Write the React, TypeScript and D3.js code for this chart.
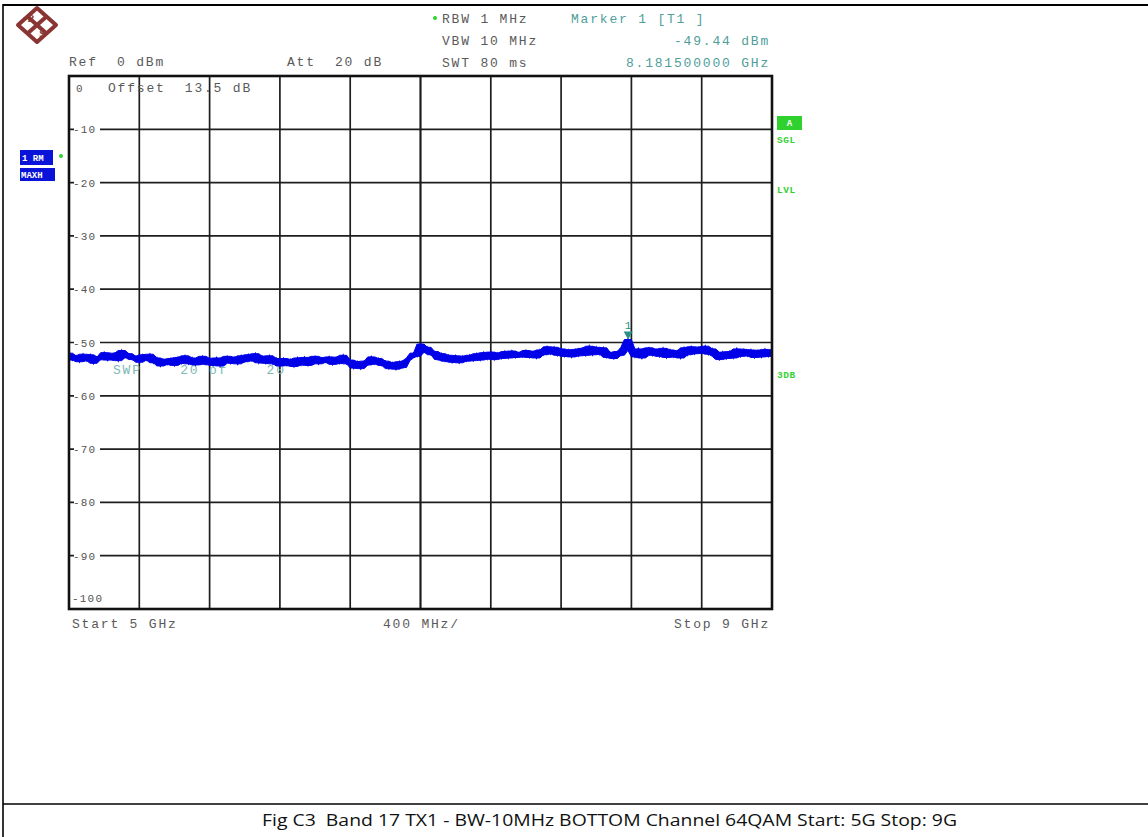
import React from "react";
import * as d3 from "d3";

// Sweep settings
const START_GHZ = 5;
const STOP_GHZ = 9;
const REF_DBM = 0;
const RANGE_DB = 100;
const X_DIVS = 10;

const Y_TICK_LABELS = ["-10", "-20", "-30", "-40", "-50", "-60", "-70", "-80", "-90"];
const Y_TICK_VALUES = [-10, -20, -30, -40, -50, -60, -70, -80, -90];

// Max-hold trace, 201 points evenly spaced from start to stop (dBm)
const TRACE_DBM = [
  -52.0, -53.3, -52.5, -53.6, -52.2,
  -53.4, -52.3, -53.9, -52.7, -53.2,
  -51.9, -53.3, -52.4, -52.0, -53.4,
  -51.5, -52.8, -52.1, -53.2, -52.6,
  -53.7, -52.3, -53.3, -52.2, -53.8,
  -52.9, -54.4, -53.2, -54.1, -53.0,
  -54.3, -52.8, -53.9, -52.5, -54.0,
  -52.9, -54.2, -53.1, -52.6, -54.1,
  -53.0, -54.3, -52.9, -54.4, -53.3,
  -52.6, -53.9, -52.8, -54.0, -52.5,
  -53.6, -52.3, -53.4, -52.1, -53.8,
  -52.6, -53.9, -52.5, -54.0, -53.0,
  -54.4, -53.0, -54.3, -53.2, -54.5,
  -52.9, -54.2, -52.8, -54.3, -53.4,
  -52.6, -54.0, -52.9, -53.7, -52.7,
  -54.1, -52.8, -53.9, -52.4, -54.0,
  -53.3, -54.8, -53.6, -54.9, -53.5,
  -54.2, -52.7, -54.0, -53.0, -54.3,
  -53.5, -54.9, -53.8, -55.0, -53.6,
  -54.7, -53.4, -52.9, -52.0, -52.6,
  -50.3, -51.8, -50.9, -52.3, -51.7,
  -53.2, -52.1, -53.5, -52.4, -53.7,
  -52.5, -53.8, -52.6, -53.5, -52.4,
  -53.4, -52.1, -53.3, -51.9, -53.1,
  -51.8, -53.2, -52.0, -53.0, -51.7,
  -52.9, -51.6, -52.8, -51.9, -52.7,
  -51.5, -52.8, -51.7, -52.9, -51.4,
  -52.3, -50.8, -52.1, -50.9, -52.4,
  -51.2, -52.6, -51.4, -52.7, -51.3,
  -52.5, -51.1, -52.4, -50.7, -52.3,
  -50.9, -52.2, -51.0, -52.8, -51.9,
  -53.0, -51.7, -52.4, -50.9, -49.44,
  -51.5, -52.7, -51.2, -52.9, -51.6,
  -51.0, -52.4, -51.3, -52.6, -51.1,
  -52.8, -51.4, -52.7, -51.6, -52.9,
  -51.0, -52.3, -50.8, -52.1, -50.9,
  -52.0, -50.7, -52.2, -51.2, -52.6,
  -53.2, -51.8, -53.0, -51.7, -52.9,
  -51.2, -52.6, -51.3, -52.5, -51.4,
  -52.8, -51.5, -52.7, -51.3, -52.6,
  -51.4,
];

const MARKER_GHZ = 8.1815;
const MARKER_DBM = -49.44;

const HEADER_LEFT = [
  { text: "Ref  0 dBm", x: 69, y: 66 },
  { text: "Att  20 dB", x: 287, y: 66 },
];
const HEADER_MID = ["RBW 1 MHz", "VBW 10 MHz", "SWT 80 ms"];
const MARKER_LINES = ["Marker 1 [T1 ]", "-49.44 dBm", "8.181500000 GHz"];

const CAPTION = "Fig C3  Band 17 TX1 - BW-10MHz BOTTOM Channel 64QAM Start: 5G Stop: 9G";

const MONO = "'Liberation Mono', 'DejaVu Sans Mono', monospace";
const GREY = "#5a5a5a";
const TEAL = "#4f9e98";
const GREEN = "#2fd12f";
const BLUE = "#0a14d8";
const TRACE = "#0000e8";
const LOGO = "#8a3434";

export default function App() {
  const left = 69, right = 772, top = 76, bottom = 609;

  const x = d3.scaleLinear().domain([START_GHZ, STOP_GHZ]).range([left, right]);
  const y = d3.scaleLinear().domain([REF_DBM - RANGE_DB, REF_DBM]).range([bottom, top]);

  const xDivs = d3.range(1, X_DIVS).map((i) => START_GHZ + ((STOP_GHZ - START_GHZ) * i) / X_DIVS);
  const freqAt = (i: number) =>
    START_GHZ + ((STOP_GHZ - START_GHZ) * i) / (TRACE_DBM.length - 1);

  const line = d3
    .line<number>()
    .x((_, i) => x(freqAt(i)))
    .y((d) => y(d));

  // the dense sweep renders as a filled band spanning neighbouring readings
  const band = TRACE_DBM.map((_, i) => {
    const win = TRACE_DBM.slice(Math.max(0, i - 1), i + 2);
    return { f: freqAt(i), lo: d3.min(win) as number, hi: d3.max(win) as number };
  });
  const area = d3
    .area<{ f: number; lo: number; hi: number }>()
    .x((d) => x(d.f))
    .y0((d) => y(d.lo))
    .y1((d) => y(d.hi));

  const mx = x(MARKER_GHZ);
  const my = y(MARKER_DBM);

  const monoText = {
    fontFamily: MONO,
    fontSize: 13,
    letterSpacing: 1.8,
  } as React.CSSProperties;

  return (
    <svg
      width={1148}
      height={837}
      style={{ position: "absolute", left: 0, top: 0, background: "#fff" }}
    >
      {/* page frame */}
      <line x1={3} y1={5} x2={1148} y2={5} stroke="#000" strokeWidth={2.2} />
      <line x1={3} y1={4} x2={3} y2={837} stroke="#000" strokeWidth={1.6} />
      <line x1={3} y1={804} x2={1148} y2={804} stroke="#000" strokeWidth={1.4} />

      {/* R&S logo */}
      <g transform="translate(37,25)">
        <polygon points="0,-17 19,0 0,17 -19,0" fill="#fff" stroke={LOGO} strokeWidth={4} strokeLinejoin="round" />
        <line x1={-9.5} y1={-8.5} x2={9.5} y2={8.5} stroke={LOGO} strokeWidth={4} />
        <line x1={9.5} y1={-8.5} x2={-9.5} y2={8.5} stroke={LOGO} strokeWidth={4} />
        <text x={-6} y={-3} fontSize={10} fontWeight="bold" fontFamily="'Liberation Serif', serif" fill={LOGO} textAnchor="middle">R</text>
        <text x={5} y={12} fontSize={10} fontWeight="bold" fontFamily="'Liberation Serif', serif" fill={LOGO} textAnchor="middle">S</text>
      </g>

      {/* header */}
      {HEADER_LEFT.map((h) => (
        <text key={h.text} x={h.x} y={h.y} fill={GREY} style={{ ...monoText, whiteSpace: "pre" }}>
          {h.text}
        </text>
      ))}
      <circle cx={435} cy={18} r={2} fill={GREEN} />
      {HEADER_MID.map((t, i) => (
        <text key={t} x={442} y={23 + i * 22} fill={GREY} style={monoText}>
          {t}
        </text>
      ))}
      {MARKER_LINES.map((t, i) => (
        <text
          key={t}
          x={i === 0 ? 571 : 770}
          y={23 + i * 22}
          fill={TEAL}
          textAnchor={i === 0 ? "start" : "end"}
          style={monoText}
        >
          {t}
        </text>
      ))}

      {/* trace mode labels */}
      <rect x={20} y={150} width={33} height={15} fill={BLUE} />
      <text x={22} y={161} fill="#fff" fontFamily={MONO} fontSize={9} fontWeight="bold" style={{ whiteSpace: "pre" }}>
        1 RM
      </text>
      <circle cx={61} cy={156} r={2} fill={GREEN} />
      <rect x={20} y={168} width={35} height={13} fill={BLUE} />
      <text x={21} y={178} fill="#fff" fontFamily={MONO} fontSize={9} fontWeight="bold">
        MAXH
      </text>

      {/* status labels right */}
      <rect x={777} y={116} width={25} height={14} fill={GREEN} />
      <text x={789.5} y={126} fill="#fff" fontFamily={MONO} fontSize={9} fontWeight="bold" textAnchor="middle">
        A
      </text>
      {[
        { t: "SGL", yy: 143 },
        { t: "LVL", yy: 193 },
        { t: "3DB", yy: 378 },
      ].map((s) => (
        <text key={s.t} x={777} y={s.yy} fill={GREEN} fontFamily={MONO} fontSize={9.5} fontWeight="bold" letterSpacing={0.6}>
          {s.t}
        </text>
      ))}

      {/* grid */}
      {xDivs.map((f) => (
        <line
          key={"v" + f}
          x1={x(f)}
          x2={x(f)}
          y1={top}
          y2={bottom}
          stroke="#1e1e1e"
          strokeWidth={Math.abs(f - 7) < 1e-6 ? 2.2 : 1.7}
        />
      ))}
      {Y_TICK_VALUES.map((v) => (
        <line
          key={"h" + v}
          x1={left}
          x2={right}
          y1={y(v)}
          y2={y(v)}
          stroke="#1e1e1e"
          strokeWidth={1.7}
        />
      ))}

      {/* level labels */}
      {Y_TICK_VALUES.map((v, i) => (
        <g key={"l" + v}>
          <rect x={74} y={y(v) - 6} width={26} height={12} fill="#fff" />
          <text
            x={73}
            y={y(v) + 4}
            fill="#555"
            fontFamily={MONO}
            fontSize={11}
            letterSpacing={1.2}
          >
            {Y_TICK_LABELS[i]}
          </text>
        </g>
      ))}
      <text x={76} y={92} fill="#555" fontFamily={MONO} fontSize={11}>
        0
      </text>
      <text x={72} y={602} fill="#555" fontFamily={MONO} fontSize={11} letterSpacing={1.2}>
        -100
      </text>
      <text x={108} y={92} fill={GREY} style={{ ...monoText, whiteSpace: "pre" }}>
        Offset  13.5 dB
      </text>

      {/* sweep status behind trace */}
      <text x={113} y={374} fill="#7cb9b3" style={{ ...monoText, whiteSpace: "pre" }}>
        SWP    20 of    20
      </text>

      {/* trace */}
      <path d={area(band) ?? ""} fill={TRACE} stroke={TRACE} strokeWidth={1} />
      <path d={line(TRACE_DBM) ?? ""} fill="none" stroke={TRACE} strokeWidth={1.6} strokeLinejoin="miter" />

      {/* marker */}
      <polygon points={`${mx - 4.5},${my - 8} ${mx + 4.5},${my - 8} ${mx},${my}`} fill="#2a8f86" />
      <text x={mx} y={my - 11} fill="#2a8f86" fontFamily={MONO} fontSize={11} textAnchor="middle">
        1
      </text>

      {/* plot frame */}
      <rect x={left} y={top} width={right - left} height={bottom - top} fill="none" stroke="#111" strokeWidth={2.6} />

      {/* frequency labels */}
      <text x={72} y={628} fill={GREY} style={monoText}>
        Start 5 GHz
      </text>
      <text x={383} y={628} fill={GREY} style={monoText}>
        400 MHz/
      </text>
      <text x={770} y={628} fill={GREY} textAnchor="end" style={monoText}>
        Stop 9 GHz
      </text>

      {/* caption */}
      <text
        x={262}
        y={826}
        fill="#111"
        fontFamily="'Open Sans', 'Noto Sans', sans-serif"
        fontSize={15.5}
        textLength={695}
        lengthAdjust="spacingAndGlyphs"
        style={{ whiteSpace: "pre" }}
      >
        {CAPTION}
      </text>
    </svg>
  );
}
